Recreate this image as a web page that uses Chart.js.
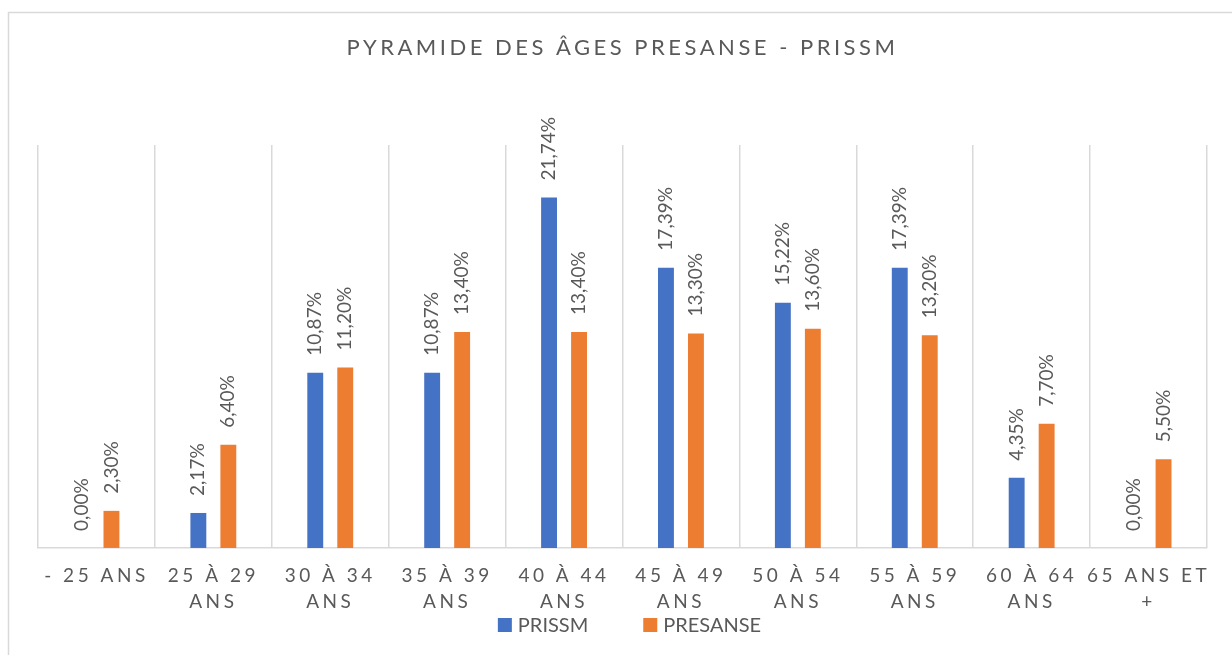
<!DOCTYPE html>
<html>
<head>
<meta charset="utf-8">
<script src="https://cdn.jsdelivr.net/npm/chart.js@4/dist/chart.umd.min.js"></script>
<style>
    html, body { margin: 0; padding: 0; background: #fff; }
    #cadre { width: 1232px; height: 655px; position: relative; }
</style>
</head>
<body>
<div id="cadre"><canvas id="graphiqueAges"></canvas></div>
<script>
// Données
const categories = [
    ["- 25 ANS"],
    ["25 À 29", "ANS"],
    ["30 À 34", "ANS"],
    ["35 À 39", "ANS"],
    ["40 À 44", "ANS"],
    ["45 À 49", "ANS"],
    ["50 À 54", "ANS"],
    ["55 À 59", "ANS"],
    ["60 À 64", "ANS"],
    ["65 ANS ET", "+"]
];
const prissm = [0, 2.17, 10.87, 10.87, 21.74, 17.39, 15.22, 17.39, 4.35, 0];
const presanse = [2.3, 6.4, 11.2, 13.4, 13.4, 13.3, 13.6, 13.2, 7.7, 5.5];
const nomsSeries = ["PRISSM", "PRESANSE"];
const couleurs = ["#4472C4", "#ED7D31"];
const yMax = 25;

const gris = "#595959";
const police = "Lato, 'Open Sans', sans-serif";

// Cadre gris autour du graphique
const cadrePlugin = {
    id: "cadre",
    beforeDraw(chart) {
        const ctx = chart.ctx;
        ctx.save();
        ctx.strokeStyle = "#d9d9d9";
        ctx.lineWidth = 1.5;
        ctx.strokeRect(8.5, 12.5, chart.width + 20, chart.height + 20);
        ctx.restore();
    }
};

// Espacement des lettres pour le titre et les étiquettes de l'axe
const espacementPlugin = {
    id: "espacement",
    afterUpdate(chart) {
        const sx = chart.scales.x;
        if (sx && !sx._espace) {
            const orig = sx.drawLabels;
            sx.drawLabels = function (a) {
                this.ctx.save();
                this.ctx.letterSpacing = "3.5px";
                orig.call(this, a);
                this.ctx.restore();
            };
            sx._espace = true;
        }
        const t = chart.titleBlock;
        if (t && !t._espace) {
            const origT = t.draw;
            t.draw = function () {
                this.ctx.save();
                this.ctx.letterSpacing = "3.5px";
                origT.call(this);
                this.ctx.restore();
            };
            t._espace = true;
        }
    }
};

// Étiquettes de valeurs verticales au-dessus des barres
const etiquettesPlugin = {
    id: "etiquettes",
    afterDatasetsDraw(chart) {
        const ctx = chart.ctx;
        ctx.save();
        ctx.font = "19px " + police;
        ctx.fillStyle = gris;
        ctx.textAlign = "left";
        ctx.textBaseline = "middle";
        chart.data.datasets.forEach((ds, i) => {
            chart.getDatasetMeta(i).data.forEach((bar, j) => {
                const txt = ds.data[j].toFixed(2).replace(".", ",") + "%";
                ctx.save();
                ctx.translate(bar.x, bar.y - 17);
                ctx.rotate(-Math.PI / 2);
                ctx.fillText(txt, 0, 0);
                ctx.restore();
            });
        });
        ctx.restore();
    }
};

// Légende en bas
const legendePlugin = {
    id: "legende",
    afterDraw(chart) {
        const ctx = chart.ctx;
        const area = chart.chartArea;
        ctx.save();
        ctx.font = "20px " + police;
        ctx.textBaseline = "middle";
        ctx.textAlign = "left";
        const carre = 14, ecart = 6, entre = 55;
        const largeurs = nomsSeries.map(n => ctx.measureText(n).width);
        let total = 0;
        largeurs.forEach((w, i) => { total += carre + ecart + w + (i > 0 ? entre : 0); });
        let x = (area.left + area.right) / 2 + 7 - total / 2;
        const y = 625;
        nomsSeries.forEach((n, i) => {
            ctx.fillStyle = couleurs[i];
            ctx.fillRect(x, y - carre / 2, carre, carre);
            ctx.fillStyle = gris;
            ctx.fillText(n, x + carre + ecart, y + 1);
            x += carre + ecart + largeurs[i] + entre;
        });
        ctx.restore();
    }
};

new Chart(document.getElementById("graphiqueAges"), {
    type: "bar",
    data: {
        labels: categories,
        datasets: [{
            label: nomsSeries[0],
            data: prissm,
            backgroundColor: couleurs[0],
            categoryPercentage: 0.513,
            barPercentage: 0.53
        }, {
            label: nomsSeries[1],
            data: presanse,
            backgroundColor: couleurs[1],
            categoryPercentage: 0.513,
            barPercentage: 0.53
        }]
    },
    options: {
        responsive: true,
        maintainAspectRatio: false,
        animation: false,
        layout: { padding: { left: 38, right: 25, top: 0, bottom: 25 } },
        plugins: {
            legend: { display: false },
            tooltip: { enabled: false },
            title: {
                display: true,
                text: "PYRAMIDE DES ÂGES PRESANSE - PRISSM",
                color: gris,
                font: { family: police, size: 22, weight: "normal", lineHeight: 1.2 },
                padding: { top: 35, bottom: 83.6 }
            }
        },
        scales: {
            x: {
                grid: {
                    offset: true,
                    color: "#d9d9d9",
                    lineWidth: 1.5,
                    drawTicks: false
                },
                border: { display: true, color: "#d9d9d9", width: 1.5 },
                ticks: {
                    color: gris,
                    font: { family: police, size: 19, lineHeight: 1.37 },
                    padding: 15,
                    maxRotation: 0,
                    autoSkip: false
                }
            },
            y: {
                display: false,
                min: 0,
                max: yMax
            }
        }
    },
    plugins: [cadrePlugin, espacementPlugin, etiquettesPlugin, legendePlugin]
});
</script>
</body>
</html>
